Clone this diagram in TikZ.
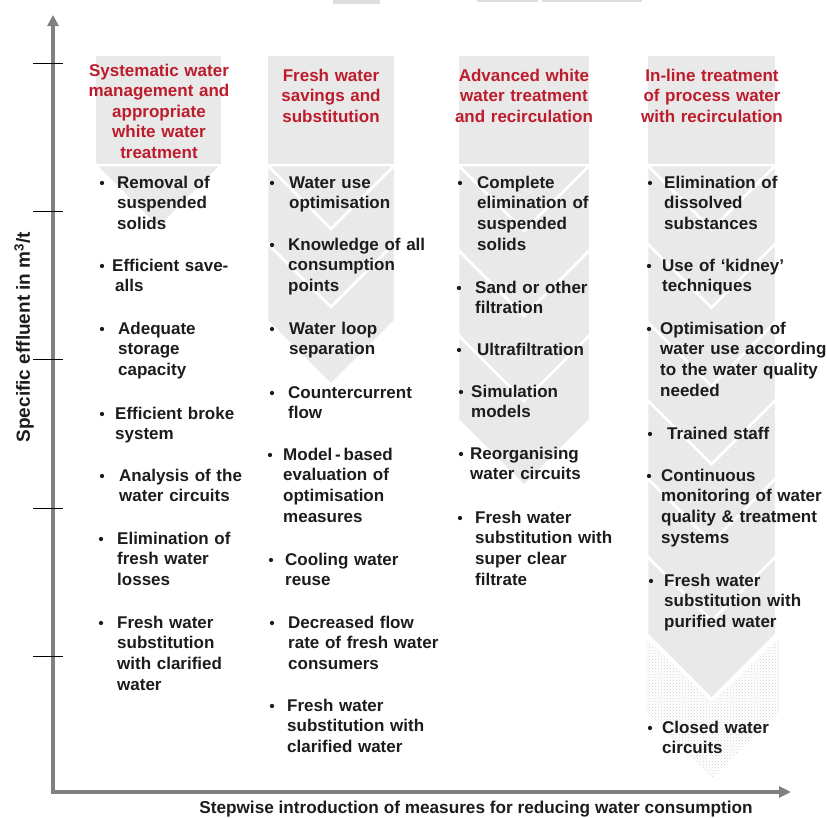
\documentclass[tikz,border=0pt]{standalone}
\usepackage{fontspec}
\setmainfont{Liberation Sans}
\usetikzlibrary{arrows.meta,patterns}
\definecolor{panelgray}{RGB}{233,233,233}
\definecolor{headred}{RGB}{188,28,44}
\definecolor{axisgray}{RGB}{128,128,128}
\definecolor{inkblack}{RGB}{28,28,28}
\definecolor{edgegray}{RGB}{222,222,222}

\begin{document}
\begin{tikzpicture}[x=1pt,y=-1pt,
  panel/.style={fill=panelgray, draw=white, line width=2.5pt, line join=miter},
  dotpanel/.style={pattern=crosshatch dots, pattern color=gray!35, draw=white, line width=2.5pt},
  head/.style={text=headred, font=\fontsize{17}{20.6}\selectfont\bfseries, align=center, text width=180pt, inner sep=0pt, anchor=base},
  item/.style={text=inkblack, font=\fontsize{17}{20.8}\selectfont\bfseries, align=left, text width=200pt, inner sep=0pt, anchor=base west},
  bul/.style={circle, fill=inkblack, inner sep=0pt, minimum size=4.3pt},
  tickmark/.style={draw=black, line width=1pt},
  axis/.style={draw=axisgray, line width=4pt, line join=miter,
    {Triangle[length=11pt,width=11pt]}-{Triangle[length=12pt,width=11pt]}},
  axislabel/.style={text=inkblack, font=\fontsize{17.2}{20}\selectfont\bfseries, inner sep=0pt},
  ylabelstyle/.style={text=inkblack, font=\fontsize{19}{22}\selectfont\bfseries, inner sep=0pt}
]
\useasboundingbox (0,0) rectangle (827,817);

% faint strips along the upper edge
\fill[edgegray] (333,0) rectangle (380,4);
\fill[edgegray] (477,0) rectangle (538,2);
\fill[edgegray] (542,0) rectangle (642,2);

% ---------- stacked chevron columns ----------
% last (dotted) chevron of the fourth column
\draw[dotpanel] (645,635.5) -- (712,700) -- (780,635.5) -- (780,713.75) -- (712,780) -- (645,713.75) -- cycle;

% left x / right x / point depth / pitch / number of chevrons
\foreach \xl/\xr/\dd/\pp/\nn in {95/222/63.5/78/0, 267/395/64/78/2, 458/590/66/85/3, 647/776/64.5/78.25/6} {
  \pgfmathsetmacro\xc{(\xl+\xr)/2}
  \draw[panel] (\xl,55) rectangle (\xr,165);
  \draw[panel] (\xl,165) -- (\xr,165) -- (\xc,{165+\dd}) -- cycle;
  \ifnum\nn>0
    \foreach \k in {1,...,\nn} {
      \pgfmathsetmacro\tt{165+(\k-1)*\pp}
      \pgfmathsetmacro\bb{\tt+\pp}
      \draw[panel] (\xl,\tt) -- (\xc,{\tt+\dd}) -- (\xr,\tt) -- (\xr,\bb) -- (\xc,{\bb+\dd}) -- (\xl,\bb) -- cycle;
    }
  \fi
}

% ---------- axes ----------
\coordinate (ytop) at (53,15);
\coordinate (xend) at (791,792);
\draw[axis] (ytop) |- (xend);
\foreach \yy in {63,211,359,508,656} \draw[tickmark] (33,\yy) -- (63,\yy);

\node[ylabelstyle, rotate=90] (ylab) at (24,337) {Specific effluent in m\textsuperscript{3}/t};
\node[axislabel, anchor=base] (xlab) at (476,813) {Stepwise introduction of measures for reducing water consumption};

% ---------- column headings ----------
\node[head] (h1) at (159,76) {Systematic water\\management and\\appropriate\\white water\\treatment};
\node[head] (h2) at (331,81) {Fresh water\\savings and\\substitution};
\node[head] (h3) at (524,81) {Advanced white\\water treatment\\and recirculation};
\node[head] (h4) at (712,81) {In-line treatment\\of process water\\with recirculation};

% ---------- column 1 ----------
\node[bul] (b1a) at (102,183) {};  \node[item] (t1a) at (117,188) {Removal of\\suspended\\solids};
\node[bul] (b1b) at (102,266) {};  \node[item] (t1b) at (112,271) {Efficient save-\\\hspace*{3pt}alls};
\node[bul] (b1c) at (102,329) {};  \node[item] (t1c) at (118,334) {Adequate\\storage\\capacity};
\node[bul] (b1d) at (102,414) {};  \node[item] (t1d) at (115,419) {Efficient broke\\system};
\node[bul] (b1e) at (102,476) {};  \node[item] (t1e) at (119,481) {Analysis of the\\water circuits};
\node[bul] (b1f) at (101,539) {};  \node[item] (t1f) at (117,544) {Elimination of\\fresh water\\losses};
\node[bul] (b1g) at (101,623) {};  \node[item] (t1g) at (117,628) {Fresh water\\substitution\\with clarified\\water};

% ---------- column 2 ----------
\node[bul] (b2a) at (272,183) {};  \node[item] (t2a) at (289,188) {Water use\\optimisation};
\node[bul] (b2b) at (272,245) {};  \node[item] (t2b) at (288,250) {Knowledge of all\\consumption\\points};
\node[bul] (b2c) at (272,329) {};  \node[item] (t2c) at (289,334) {Water loop\\separation};
\node[bul] (b2d) at (272,393) {};  \node[item] (t2d) at (288,398) {Countercurrent\\flow};
\node[bul] (b2e) at (270,455) {};  \node[item] (t2e) at (283,460) {Model\,-\,based\\evaluation of\\optimisation\\measures};
\node[bul] (b2f) at (271,560) {};  \node[item] (t2f) at (285,565) {Cooling water\\reuse};
\node[bul] (b2g) at (272,623) {};  \node[item] (t2g) at (288,628) {Decreased flow\\rate of fresh water\\consumers};
\node[bul] (b2h) at (272,706) {};  \node[item] (t2h) at (287,711) {Fresh water\\substitution with\\clarified water};

% ---------- column 3 ----------
\node[bul] (b3a) at (460,183) {};  \node[item] (t3a) at (477,188) {Complete\\elimination of\\suspended\\solids};
\node[bul] (b3b) at (459,288) {};  \node[item] (t3b) at (475,293) {Sand or other\\filtration};
\node[bul] (b3c) at (459,350) {};  \node[item] (t3c) at (477,355) {Ultrafiltration};
\node[bul] (b3d) at (461,392) {};  \node[item] (t3d) at (471,397) {Simulation\\models};
\node[bul] (b3e) at (461,454) {};  \node[item] (t3e) at (470,459) {Reorganising\\water circuits};
\node[bul] (b3f) at (460,518) {};  \node[item] (t3f) at (475,523) {Fresh water\\substitution with\\super clear\\filtrate};

% ---------- column 4 ----------
\node[bul] (b4a) at (650,183) {};  \node[item] (t4a) at (664,188) {Elimination of\\dissolved\\substances};
\node[bul] (b4b) at (649,266) {};  \node[item] (t4b) at (662,271) {Use of ‘kidney’\\techniques};
\node[bul] (b4c) at (649,329) {};  \node[item] (t4c) at (660,334) {Optimisation of\\water use according\\to the water quality\\needed};
\node[bul] (b4d) at (650,434) {};  \node[item] (t4d) at (667,439) {Trained staff};
\node[bul] (b4e) at (649,476) {};  \node[item] (t4e) at (661,481) {Continuous\\monitoring of water\\quality \& treatment\\systems};
\node[bul] (b4f) at (651,581) {};  \node[item] (t4f) at (664,586) {Fresh water\\substitution with\\purified water};
\node[bul] (b4g) at (650,728) {};  \node[item] (t4g) at (662,733) {Closed water\\circuits};
\end{tikzpicture}
\end{document}
